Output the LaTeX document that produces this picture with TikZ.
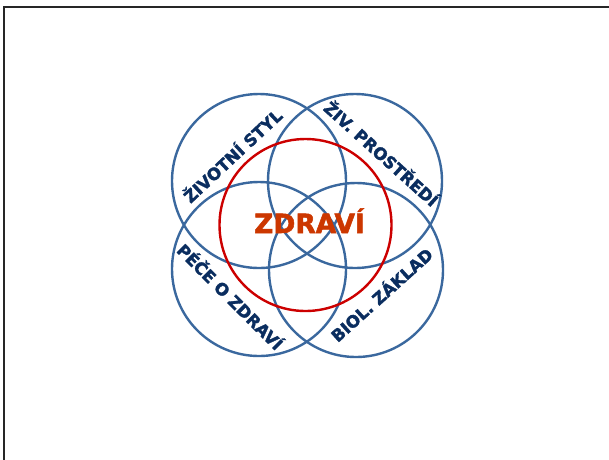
\documentclass[tikz,border=0pt]{standalone}
\usepackage{fontspec}
\setmainfont{DejaVu Sans}
\newfontfamily\heavyfont[BoldFeatures={FakeBold=2}]{DejaVu Sans}
\definecolor{ringblue}{RGB}{58,104,158}
\definecolor{ringred}{RGB}{204,0,0}
\definecolor{labelnavy}{RGB}{10,45,95}
\definecolor{titlered}{RGB}{204,55,0}
\tikzset{
  ring/.style={circle, draw=ringblue, line width=2.4pt, minimum size=174pt, inner sep=0pt},
  redring/.style={circle, draw=ringred, line width=2.4pt, minimum size=172pt, inner sep=0pt},
  lbl/.style={text=labelnavy, font=\heavyfont\bfseries\fontsize{16.5}{18}\selectfont, inner sep=0pt},
  title/.style={text=titlered, font=\heavyfont\bfseries\fontsize{26.5}{30}\selectfont, inner sep=0pt, anchor=base}
}
\begin{document}
\begin{tikzpicture}[x=1pt,y=-1pt]
\useasboundingbox (0,0) rectangle (609,459);
\begin{scope}
\clip (0,0) rectangle (609,459);
\draw[line width=2pt, draw=black!85] (4,7) rectangle (640,490);
\end{scope}
\node[ring] (tl) at (259,181) {};
\node[ring] (tr) at (355,181) {};
\node[ring] (bl) at (259,269) {};
\node[ring] (br) at (356,270) {};
\node[redring] (zd) at (305.5,225) {};
\node[lbl, rotate=43] (styl) at (232,155) {ŽIVOTNÍ STYL};
\node[lbl, rotate=-42] (prost) at (382,153) {ŽIV. PROSTŘEDÍ};
\node[lbl, rotate=-45] (pece) at (231,296) {PÉČE O ZDRAVÍ};
\node[lbl, rotate=42] (biol) at (381,294) {BIOL. ZÁKLAD};
\node[title] (zdravi) at (309.5,233) {ZDRAVÍ};
\end{tikzpicture}
\end{document}
